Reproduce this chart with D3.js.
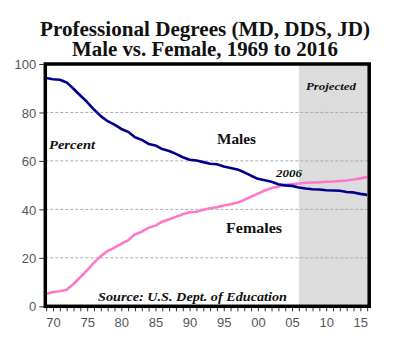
<!DOCTYPE html>
<html><head><meta charset="utf-8">
<script src="https://cdn.jsdelivr.net/npm/d3@7"></script>
<style>body{margin:0;background:#fff}svg{display:block}</style>
</head><body>
<svg id="c" width="400" height="348"></svg>
<script>
const years = d3.range(1969, 2017);
const males = [94.2,93.7,93.5,92.4,89.8,87.0,84.3,81.2,78.5,76.4,75.0,73.2,72.0,69.8,68.7,67.0,66.4,64.9,64.1,62.9,61.5,60.5,60.2,59.5,58.8,58.6,57.7,57.1,56.5,55.3,53.9,52.6,52.0,51.4,50.4,49.9,49.7,49.0,48.6,48.3,48.2,47.9,47.8,47.7,47.2,47.0,46.4,46.0];
const females = [5.1,5.9,6.2,6.8,9.2,12.0,14.9,18.0,20.7,22.8,24.2,25.8,27.2,29.7,30.8,32.4,33.3,34.9,35.9,36.9,38.0,38.8,39.0,39.8,40.5,40.9,41.6,42.1,42.8,43.9,45.2,46.5,47.8,48.8,49.4,50.1,50.4,50.7,51.0,51.1,51.2,51.4,51.5,51.7,51.9,52.3,52.8,53.3];
const yTicks = [0,20,40,60,80,100];
const gridTicks = [20,40,60,80];
const projectedStart = 2006;
const titleLines = ["Professional Degrees (MD, DDS, JD)", "Male vs. Female, 1969 to 2016"];

const svg = d3.select("#c");
const L = 45.3, R = 369.2, T = 64, B = 306.3;
const x = d3.scaleLinear().domain([1968.87, 2016.3]).range([L, R]);
const y = d3.scaleLinear().domain([0, 100]).range([B, T]);

// title
const titleW = [330, 266];
svg.selectAll("text.title").data(titleLines).enter().append("text")
  .attr("x", 205).attr("y", (d,i) => 35.7 + i*20)
  .attr("text-anchor", "middle")
  .attr("textLength", (d,i) => titleW[i]).attr("lengthAdjust", "spacingAndGlyphs")
  .style("font-family", "'Liberation Serif', serif").style("font-weight", "bold")
  .style("font-size", "20px").attr("fill", "#111").text(d => d);

// projected shading
svg.append("rect").attr("x", x(projectedStart)).attr("y", T)
  .attr("width", R - x(projectedStart)).attr("height", B - T).attr("fill", "#dcdcdc");

// gridlines
svg.selectAll("line.grid").data(gridTicks).enter().append("line")
  .attr("x1", L).attr("x2", R).attr("y1", d => y(d)).attr("y2", d => y(d))
  .attr("stroke", "#aaa").attr("stroke-width", 1).attr("stroke-dasharray", "3,2");

// lines
const line = vals => d3.line().x((d,i) => x(years[i])).y(d => y(d))(vals);
svg.append("path").attr("d", line(females)).attr("fill", "none")
  .attr("stroke", "#ff78c8").attr("stroke-width", 2.6).attr("stroke-linejoin", "round");
svg.append("path").attr("d", line(males)).attr("fill", "none")
  .attr("stroke", "#00008f").attr("stroke-width", 2.6).attr("stroke-linejoin", "round");

// axes
const xAxis = d3.axisBottom(x).tickValues(years).tickSize(5).tickPadding(6)
  .tickFormat(d => d % 5 === 0 ? String(d % 100).padStart(2, "0") : "");
const gx = svg.append("g").attr("transform", `translate(0,${B})`).call(xAxis);
const yAxis = d3.axisLeft(y).tickValues(yTicks).tickSize(6).tickPadding(3);
const gy = svg.append("g").attr("transform", `translate(${L},0)`).call(yAxis);
[gx, gy].forEach(g => {
  g.select(".domain").remove();
  g.selectAll("line").attr("stroke", "#333");
  g.selectAll("text").style("font-family", "'Liberation Sans', Arial, sans-serif")
    .style("font-size", "13px").attr("fill", "#555");
});
gy.selectAll("text").attr("dy", "0.36em");

// frame
svg.append("rect").attr("x", L).attr("y", T).attr("width", R - L).attr("height", B - T)
  .attr("fill", "none").attr("stroke", "#000").attr("stroke-width", 3.5);

// annotations
const ann = [
  {t:"Percent", x:49, y:149, s:11.5, it:true, w:46},
  {t:"Males", x:217, y:144, s:15, it:false, w:39},
  {t:"Projected", x:306, y:90, s:10.5, it:true, w:50},
  {t:"2006", x:276, y:177, s:10.5, it:true, w:26},
  {t:"Females", x:226, y:233, s:15, it:false, w:56},
  {t:"Source: U.S. Dept. of Education", x:98, y:301, s:11.5, it:true, w:189}
];
svg.selectAll("text.ann").data(ann).enter().append("text")
  .attr("x", d => d.x).attr("y", d => d.y).attr("text-anchor", "start")
  .attr("textLength", d => d.w).attr("lengthAdjust", "spacingAndGlyphs")
  .style("font-family", "'Liberation Serif', serif").style("font-weight", "bold")
  .style("font-style", d => d.it ? "italic" : "normal")
  .style("font-size", d => d.s + "px").attr("fill", "#111").text(d => d.t);
</script>
</body></html>
